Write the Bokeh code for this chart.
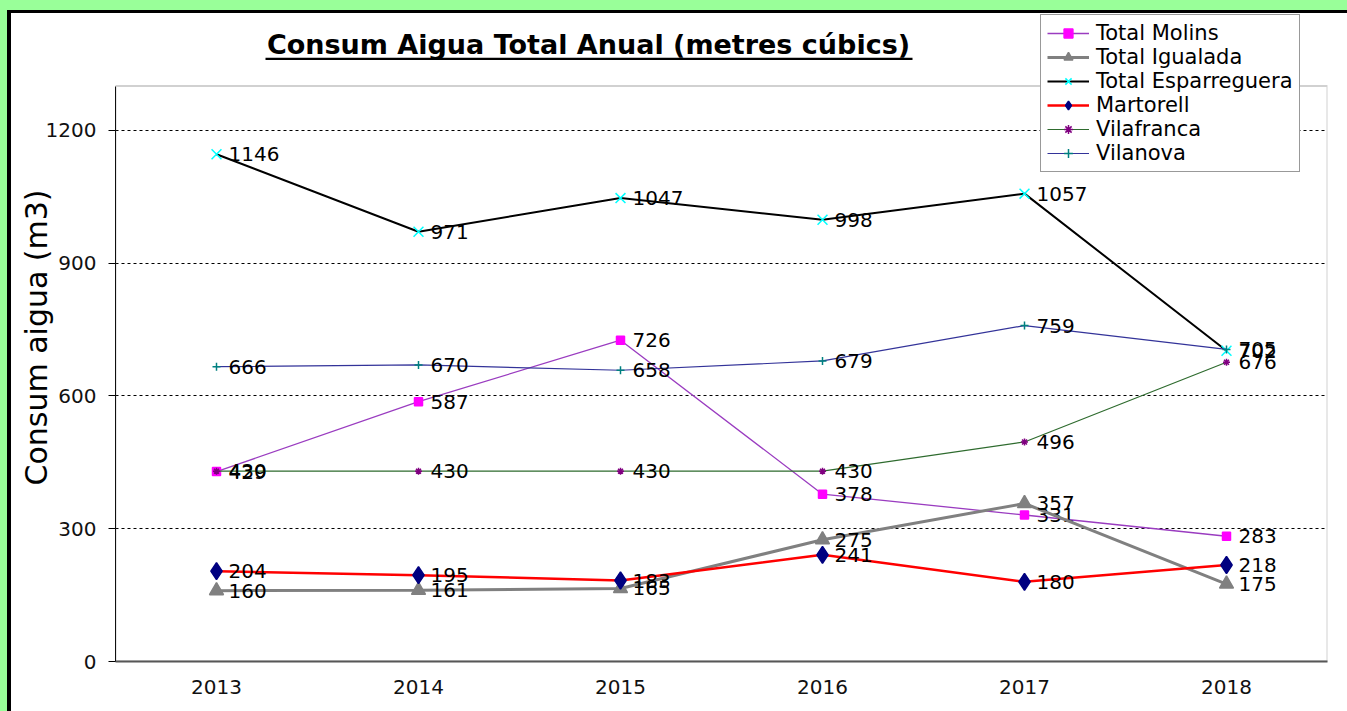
from bokeh.plotting import figure
from bokeh.models import (FactorRange, Range1d, FixedTicker, Legend, LegendItem,
                          Label, BoxAnnotation)
from bokeh.core.properties import value
from bokeh.embed import file_html
from bokeh.resources import INLINE

years = ["2013", "2014", "2015", "2016", "2017", "2018"]
molins = [429, 587, 726, 378, 331, 283]
igualada = [160, 161, 165, 275, 357, 175]
esparreguera = [1146, 971, 1047, 998, 1057, 702]
martorell = [204, 195, 183, 241, 180, 218]
vilafranca = [430, 430, 430, 430, 496, 676]
vilanova = [666, 670, 658, 679, 759, 705]
y_ticks = [0, 300, 600, 900, 1200]
y_max = 1300          # top of the plotting box
y_view_top = 1464     # frame extends up to the chart's top edge (title/legend live there)

FONT = "DejaVu Sans"

p = figure(width=1336, height=698, output_backend="svg", toolbar_location=None,
           x_range=FactorRange(factors=years, range_padding=0),
           y_range=Range1d(0, y_view_top),
           min_border_left=104, min_border_right=20, min_border_top=0,
           min_border_bottom=50)
p.background_fill_color = "white"
p.border_fill_color = "white"
p.outline_line_color = None

# plot-area box (top at y_max)
box = BoxAnnotation(left=0, right=6, bottom=0, top=y_max, fill_alpha=0,
                    line_color="#666666", line_width=2)
p.add_layout(box)

# axes
p.yaxis.ticker = FixedTicker(ticks=y_ticks)
p.yaxis.bounds = (0, y_max)
p.yaxis.minor_tick_line_color = None
p.yaxis.major_tick_out = 7
p.yaxis.major_tick_in = 0
p.yaxis.axis_line_color = "black"
p.yaxis.major_tick_line_color = "black"
p.yaxis.major_label_text_font = FONT
p.yaxis.major_label_text_font_size = "20px"
p.yaxis.major_label_text_color = "#111111"
p.yaxis.major_label_standoff = 12
p.yaxis.axis_label = "Consum aigua (m3)"
p.yaxis.axis_label_text_font = FONT
p.yaxis.axis_label_text_font_size = "30px"
p.yaxis.axis_label_text_font_style = "normal"
p.yaxis.axis_label_text_color = "black"
p.yaxis.axis_label_standoff = -11

p.xaxis.major_tick_out = 0
p.xaxis.major_tick_in = 0
p.xaxis.axis_line_color = "#555555"
p.xaxis.axis_line_width = 2
p.xaxis.major_label_text_font = FONT
p.xaxis.major_label_text_font_size = "20px"
p.xaxis.major_label_text_color = "#111111"
p.xaxis.major_label_standoff = 18

p.xgrid.grid_line_color = None
p.ygrid.ticker = FixedTicker(ticks=[300, 600, 900, 1200])
p.ygrid.grid_line_color = "black"
p.ygrid.grid_line_dash = "3 3"
p.ygrid.grid_line_width = 1

series = [
    ("Total Molins", molins, "#9A3CC0", 1.3, "square", "#FF00FF", "#FF00FF", 8),
    ("Total Igualada", igualada, "#808080", 3, "triangle", "#808080", "#808080", 14),
    ("Total Esparreguera", esparreguera, "black", 2, "x", "#00FFFF", "#00FFFF", 14),
    ("Martorell", martorell, "#FF0000", 2.5, "diamond", "#000080", "#000080", 17),
    ("Vilafranca", vilafranca, "#2E6B2E", 1.2, "asterisk", "#800080", "#800080", 7),
    ("Vilanova", vilanova, "#333399", 1.2, "cross", "#008080", "#008080", 8),
]

items = []
for name, vals, lc, lw, marker, mfill, mline, msize in series:
    r1 = p.line(years, vals, line_color=lc, line_width=lw)
    r2 = p.scatter(years, vals, marker=marker, size=msize, fill_color=mfill,
                   line_color=mline, line_width=1.5)
    p.text(years, vals, text=[str(v) for v in vals], x_offset=12,
           text_baseline="middle", text_align="left",
           text_font=value(FONT), text_font_size="20px", text_color="black")
    items.append(LegendItem(label=name, renderers=[r1, r2]))

legend = Legend(items=items, location=(925, 489), orientation="vertical",
                label_text_font=FONT, label_text_font_size="21px",
                label_text_color="black", glyph_width=42, glyph_height=22,
                label_height=22, spacing=0, padding=6, margin=0,
                label_standoff=7, border_line_color="#333333",
                border_line_width=1.5, background_fill_color="white",
                background_fill_alpha=1)
p.add_layout(legend, "center")

title = Label(x=473, y=1394, x_units="screen", y_units="data",
              text="Consum Aigua Total Anual (metres cúbics)",
              text_font=FONT, text_font_size="27px", text_font_style="bold",
              text_align="center", text_baseline="middle", text_color="black")
p.add_layout(title)
underline = BoxAnnotation(left=150, right=797, bottom=1359, top=1364,
                          left_units="screen", right_units="screen",
                          fill_color="black", fill_alpha=1, line_color=None)
p.add_layout(underline)

html = file_html(p, INLINE)
css = ("<style>html{background:#99FF99;padding:10px 0 0 7px;overflow:hidden;}"
       "body{background:white;border-top:3px solid black;border-left:4px solid black;"
       "overflow:hidden;}</style>")
html = html.replace("</head>", css + "</head>", 1)
open("out.html", "w").write(html)
